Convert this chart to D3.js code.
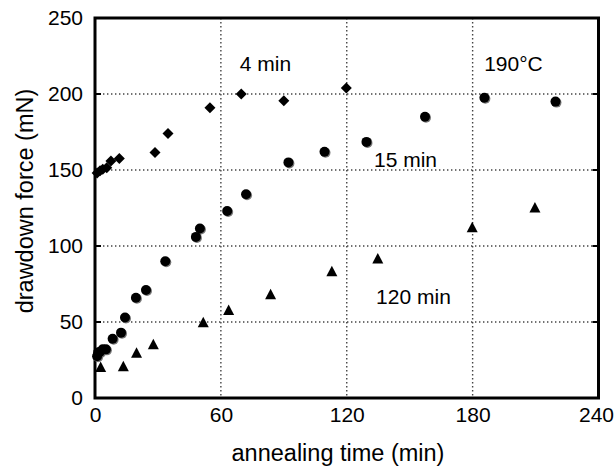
<!DOCTYPE html>
<html><head><meta charset="utf-8">
<script src="https://cdn.jsdelivr.net/npm/d3@7"></script>
<style>body{margin:0;background:#fff}svg{display:block}text{font-family:"Liberation Sans",Arial,sans-serif;fill:#000}</style>
</head><body><svg id="c" width="615" height="466"></svg>
<script>
const xTicks = [0, 60, 120, 180, 240];
const yTicks = [0, 50, 100, 150, 200, 250];
const s4 = [[1,148],[2.4,149.5],[3.7,150.5],[5.6,151.5],[7.6,156],[11.6,157.5],[28.6,161.5],[34.8,174],[54.8,191],[69.7,200],[90,195.5],[119.8,204]];
const s15 = [[1,27.5],[1.5,30],[2.4,30.5],[3.7,32],[5.2,32],[8.4,39],[12.4,43],[14.3,53],[19.5,66],[24.3,71],[33.5,90],[48.1,106],[50,111.5],[63,123],[72,134],[92.2,155],[109.4,162],[129.4,168.5],[157.3,185],[185.6,197.5],[219.5,195]];
const s120 = [[2.7,20],[13.5,20.5],[19.8,29.5],[27.8,35],[51.6,49.5],[63.7,57.5],[83.7,68],[112.9,83],[134.8,91.5],[179.8,112],[209.7,125]];
const labels = [{t:"4 min",x:69,y:215},{t:"190°C",x:185.5,y:215},{t:"15 min",x:133,y:152},{t:"120 min",x:134,y:62}];

const svg = d3.select("#c");
const L=95,R=598.5,T=18,B=398;
const FS = "21px";
const x = d3.scaleLinear().domain([0,240]).range([L,R]);
const y = d3.scaleLinear().domain([0,250]).range([B,T]);

// grid
const g = svg.append("g");
g.selectAll("line.v").data(xTicks.filter(d=>d>0&&d<240)).enter().append("line")
  .attr("x1",d=>x(d)).attr("x2",d=>x(d)).attr("y1",T).attr("y2",B)
  .attr("stroke","#444").attr("stroke-width",1.4).attr("stroke-dasharray","1.4,2.6");
g.selectAll("line.h").data(yTicks.filter(d=>d>0&&d<250)).enter().append("line")
  .attr("y1",d=>y(d)).attr("y2",d=>y(d)).attr("x1",L).attr("x2",R)
  .attr("stroke","#444").attr("stroke-width",1.4).attr("stroke-dasharray","1.4,2.6");

// axes
const ax = d3.axisBottom(x).tickValues(xTicks).tickSize(0).tickPadding(9);
const ay = d3.axisLeft(y).tickValues(yTicks).tickSize(0).tickPadding(12);
const gx = svg.append("g").attr("transform",`translate(0,${B})`).call(ax);
const gy = svg.append("g").attr("transform",`translate(${L},0)`).call(ay);
[gx,gy].forEach(a=>{a.select(".domain").remove();a.selectAll("text").style("font-size",FS).style("font-family",'"Liberation Sans",Arial,sans-serif');});
gx.selectAll(".tick").filter(d=>d===240).select("text").attr("dx","-2.5");
// inward ticks
svg.append("g").selectAll("line").data(yTicks).enter().append("line")
  .attr("x1",R-6).attr("x2",R).attr("y1",d=>y(d)).attr("y2",d=>y(d)).attr("stroke","#000").attr("stroke-width",2);
svg.append("g").selectAll("line").data(yTicks).enter().append("line")
  .attr("x1",L).attr("x2",L+6).attr("y1",d=>y(d)).attr("y2",d=>y(d)).attr("stroke","#000").attr("stroke-width",2);

svg.append("rect").attr("x",L).attr("y",T).attr("width",R-L).attr("height",B-T)
  .attr("fill","none").attr("stroke","#000").attr("stroke-width",3);

// markers
const pts = svg.append("g");
pts.selectAll("path.d").data(s4).enter().append("path")
  .attr("transform",d=>`translate(${x(d[0])},${y(d[1])})`)
  .attr("d","M0,-5.5L5.5,0L0,5.5L-5.5,0Z").attr("fill","#000");
pts.selectAll("circle.s").data(s15).enter().append("circle")
  .attr("cx",d=>x(d[0])+1).attr("cy",d=>y(d[1])+1).attr("r",5).attr("fill","#777");
pts.selectAll("circle.c").data(s15).enter().append("circle")
  .attr("cx",d=>x(d[0])).attr("cy",d=>y(d[1])).attr("r",5).attr("fill","#000");
pts.selectAll("path.t").data(s120).enter().append("path")
  .attr("transform",d=>`translate(${x(d[0])},${y(d[1])})`)
  .attr("d","M0,-6L5.5,4.5L-5.5,4.5Z").attr("fill","#000");

// labels
svg.selectAll("text.lab").data(labels).enter().append("text")
  .attr("x",d=>x(d.x)).attr("y",d=>y(d.y)).text(d=>d.t).style("font-size",FS);

svg.append("text").attr("x",338).attr("y",461).attr("text-anchor","middle").style("font-size","23.5px").text("annealing time (min)");
svg.append("text").attr("transform",`translate(33,201) rotate(-90)`).attr("text-anchor","middle").style("font-size","23.5px").text("drawdown force (mN)");
</script></body></html>
